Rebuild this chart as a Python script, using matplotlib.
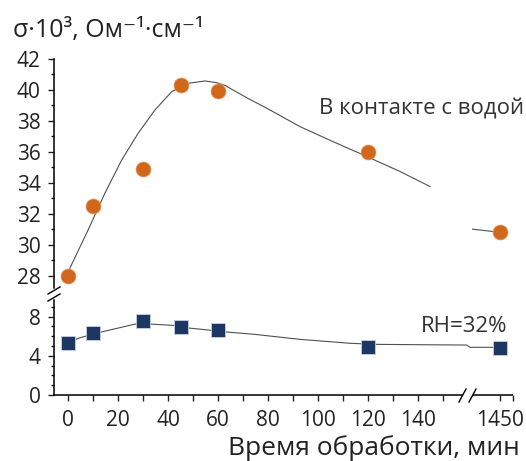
import numpy as np
import matplotlib
matplotlib.use('Agg')
import matplotlib.pyplot as plt
from matplotlib.lines import Line2D
from matplotlib.ticker import FixedLocator, FixedFormatter, NullFormatter

plt.rcParams['font.family'] = ['Open Sans', 'DejaVu Sans']

# measured points
time_min = [0, 10, 30, 45, 60, 120, 1450]
sigma_water = [28.0, 32.5, 34.9, 40.3, 39.9, 36.0, 30.8]
sigma_rh32 = [5.3, 6.3, 7.6, 6.9, 6.6, 4.9, 4.85]

# fitted curves
fit_water_t = [0, 0.8, 8.1, 14.8, 21.5, 28.1, 34.8, 41.5, 48.1, 54.8, 59.5,
               63, 66, 72, 79.5, 92.8, 106, 119.5, 132.8, 144.8]
fit_water_y = [28.0, 28.5, 30.97, 33.34, 35.48, 37.21, 38.71, 39.89, 40.43,
               40.58, 40.47, 40.28, 40.0, 39.45, 38.82, 37.63, 36.66, 35.70,
               34.73, 33.76]
fit_water_tail_t = [1439, 1450]
fit_water_tail_y = [31.0, 30.8]
fit_rh_t = [0, 4.8, 12.8, 26.8, 30, 33, 42.1, 48.1, 56.4, 62.1, 74.8, 92.8,
            112.8, 123.5, 1436.7, 1438, 1450]
fit_rh_y = [5.34, 5.85, 6.4, 7.24, 7.35, 7.24, 7.11, 6.84, 6.63, 6.46, 6.19,
            5.68, 5.28, 5.17, 5.10, 4.87, 4.87]

x_major = [0, 20, 40, 60, 80, 100, 120, 140, 1450]
x_minor = [10, 30, 50, 70, 90, 110, 130, 150]

ORANGE = '#D0671B'
NAVY = '#1C3764'
CURVE = '#505050'
TXT = '#222222'

# broken x axis: 1450 min sits right after 150
X_SHIFT = 1450 - 172.8
X_END = 178.0


def xpos(t):
    t = np.asarray(t, dtype=float)
    return np.where(t > 1000, t - X_SHIFT, t)


W, H = 526, 461
fig = plt.figure(figsize=(W / 100, H / 100), dpi=100)


def fx(px):
    return px / W


def fy(py):
    return 1 - py / H


left, right = 54, 513
ax_top = fig.add_axes([fx(left), fy(288), fx(right) - fx(left), fy(59) - fy(288)])
ax_bot = fig.add_axes([fx(left), fy(395), fx(right) - fx(left), fy(300) - fy(395)])

for ax in (ax_top, ax_bot):
    ax.set_xlim(-5.6, X_END)
    ax.spines['top'].set_visible(False)
    ax.spines['right'].set_visible(False)
    ax.spines['left'].set_linewidth(1.1)
    ax.spines['bottom'].set_linewidth(1.1)
    ax.patch.set_alpha(0)
    ax.tick_params(axis='y', which='major', direction='out', length=4.2,
                   width=1.0, pad=5.5, labelsize=15, colors=TXT)
    ax.tick_params(axis='y', which='minor', direction='out', length=2.2, width=1.0)

# top panel
ax_top.set_ylim(27.2, 42)
ax_top.spines['bottom'].set_visible(False)
ax_top.tick_params(axis='x', which='both', bottom=False, labelbottom=False)
ax_top.yaxis.set_major_locator(FixedLocator(range(28, 43, 2)))
ax_top.yaxis.set_minor_locator(FixedLocator(range(29, 42, 2)))

ax_top.plot(xpos(fit_water_t), fit_water_y, color=CURVE, lw=0.8)
ax_top.plot(xpos(fit_water_tail_t), fit_water_tail_y, color=CURVE, lw=0.8)
ax_top.plot(xpos(time_min), sigma_water, 'o', ms=10.8, color=ORANGE,
            mec='#E8A070', mew=0.5, clip_on=False, zorder=3)
ax_top.text(100.4, 38.39, 'В контакте с водой', fontsize=16, color='#333333',
            ha='left', va='baseline')

# bottom panel
ax_bot.set_ylim(0, 9.7)
ax_bot.yaxis.set_major_locator(FixedLocator([0, 4, 8]))
ax_bot.yaxis.set_minor_locator(FixedLocator([1, 2, 3, 5, 6, 7, 9]))
ax_bot.spines['bottom'].set_bounds(-5.6, 157.6)
ax_bot.plot([162, X_END], [0, 0], color='black', lw=1.1, clip_on=False,
            solid_capstyle='butt')
ax_bot.xaxis.set_major_locator(FixedLocator(list(xpos(x_major))))
ax_bot.xaxis.set_major_formatter(FixedFormatter([str(v) for v in x_major]))
ax_bot.xaxis.set_minor_locator(FixedLocator(list(xpos(x_minor)) + [X_END]))
ax_bot.xaxis.set_minor_formatter(NullFormatter())
ax_bot.tick_params(axis='x', which='both', direction='out', length=4,
                   width=1.0, pad=6.5, labelsize=15, colors=TXT)

ax_bot.plot(xpos(fit_rh_t), fit_rh_y, color=CURVE, lw=0.8)
ax_bot.plot(xpos(time_min), sigma_rh32, 's', ms=10.3, color=NAVY,
            mec='#C9D2E0', mew=0.6, clip_on=False, zorder=3)
ax_bot.text(141.2, 6.43, 'RH=32%', fontsize=16, color='#333333',
            ha='left', va='baseline')

# break marks
for (x0, y0, x1, y1) in [(48, 294, 60, 287), (48, 301, 60, 294),
                         (459, 402, 466, 389), (469, 402, 476, 389)]:
    fig.add_artist(Line2D([fx(x0), fx(x1)], [fy(y0), fy(y1)],
                          color='black', lw=1.0, transform=fig.transFigure))

fig.text(fx(13), fy(37), 'σ·10³, Ом⁻¹·см⁻¹', fontsize=18,
         color=TXT, ha='left', va='baseline')
fig.text(fx(520), fy(455), 'Время обработки, мин', fontsize=19,
         color=TXT, ha='right', va='baseline')

fig.savefig('out.png', dpi=100)
